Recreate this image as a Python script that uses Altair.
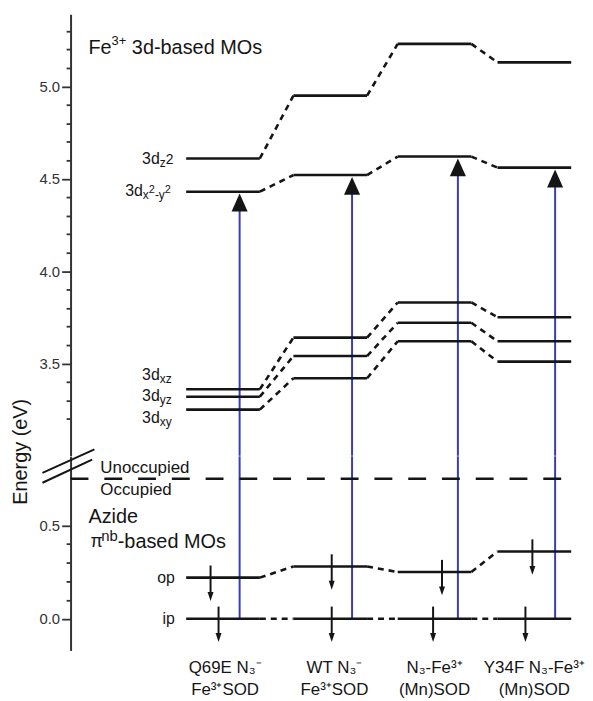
import altair as alt
import pandas as pd

# ---------------- data ----------------
complexes = ["Q69E N₃⁻\nFe³⁺SOD", "WT N₃⁻\nFe³⁺SOD", "N₃-Fe³⁺\n(Mn)SOD", "Y34F N₃-Fe³⁺\n(Mn)SOD"]
e_dz2 = [4.61, 4.95, 5.23, 5.13]
e_dx2y2 = [4.43, 4.52, 4.62, 4.56]
e_dxz = [3.36, 3.64, 3.83, 3.75]
e_dyz = [3.32, 3.54, 3.72, 3.62]
e_dxy = [3.25, 3.42, 3.62, 3.51]
e_op = [0.22, 0.28, 0.25, 0.36]
e_ip = [0.00, 0.00, 0.00, 0.00]
e_occ_boundary = 0.75
upper_ticks = [3.2, 3.3, 3.4, 3.5, 3.6, 3.7, 3.8, 3.9, 4.0, 4.1, 4.2, 4.3,
               4.4, 4.5, 4.6, 4.7, 4.8, 4.9, 5.0, 5.1, 5.2, 5.3]
lower_ticks = [0.0, 0.1, 0.2, 0.3, 0.4, 0.5]

# ---------------- layout / style ----------------
FONT = "Liberation Sans, Arial, Helvetica, sans-serif"
INK = "#151515"
AXIS_INK = "#333333"
BLUE = "#3a3db0"

PX = 104.5          # px per x unit
X0 = 223.5          # page px of first column centre


def px2x(p):
    return (p - X0) / PX


def up_y(p):        # page px -> energy (upper panel)
    return 5.0 - (p - 84) / 186.0


def lo_y(p):        # page px -> energy (lower panel)
    return (619.6 - p) / 188.0


col_x = [px2x(p) for p in (223.5, 331.5, 436.5, 537.0)]
HALF = 0.355
X_DOM = [px2x(70), px2x(580)]
W = 510
UP_DOM = [3.0, 5.39]
UP_H = round((UP_DOM[1] - UP_DOM[0]) * 186, 1)
LO_DOM = [-0.17, 0.87]
LO_H = round((LO_DOM[1] - LO_DOM[0]) * 188, 1)

blue_dx = [0.16, 0.21, 0.225, 0.20]
op_dx = [-0.12, 0.014, 0.072, -0.019]
ip_dx = [-0.043, 0.014, -0.014, -0.086]
label_dx = [0.02, 0.04, 0.0, 0.0]

TRI_UP = "M0,0 L0.9,2 L-0.9,2 Z"
HEAD_DOWN = "M0,0 L-0.6,-1.8 L0.6,-1.8 Z"

xs = alt.Scale(domain=X_DOM, nice=False, zero=False)


def X(f="x"):
    return alt.X(f"{f}:Q", scale=xs, axis=None)


major = "abs(datum.value * 2 - round(datum.value * 2)) < 0.001"


def y_axis(values, **extra):
    return alt.Axis(values=values, grid=False, labelOverlap=False,
                    labelExpr=f"{major} ? format(datum.value, '.1f') : ''",
                    tickSize={"condition": {"test": major, "value": 9}, "value": 4.5},
                    tickColor=AXIS_INK, tickWidth=1.8, domainColor=AXIS_INK, domainWidth=2,
                    labelFont=FONT, labelFontSize=15, labelColor="#333333", labelPadding=2,
                    **extra)


up_scale = alt.Scale(domain=UP_DOM, nice=False, zero=False)
lo_scale = alt.Scale(domain=LO_DOM, nice=False, zero=False)
up_axis = y_axis(upper_ticks, title="Energy (eV)", titleFont=FONT, titleFontSize=20,
                 titleFontWeight="normal", titleColor=INK, titleAngle=270,
                 titleAlign="center", titleBaseline="middle", titleX=-50, titleY=440)
lo_axis = y_axis(lower_ticks)


def YU():
    return alt.Y("y:Q", scale=up_scale, axis=up_axis)


def YL():
    return alt.Y("y:Q", scale=lo_scale, axis=lo_axis, title=None)


AW = {"3": .556, "d": .556, "x": .5, "y": .5, "z": .5, "2": .556, "-": .333, "+": .584,
      "n": .556, "b": .556, "π": .6, "F": .611, "e": .556, " ": .278}


def adv(t, s):
    return sum(AW.get(c, 0.556) for c in t) * s


def rich_rows(x_px, yv, runs):
    out = []
    for t, s, dy in runs:
        lead = len(t) - len(t.lstrip())
        x_px += adv(t[:lead], s)
        t = t.lstrip()
        out.append(dict(x=px2x(x_px), y=yv, t=t, s=s, dy=dy))
        x_px += adv(t, s)
    return out


def rich_layers(rows, Yf, align="left"):
    df = pd.DataFrame(rows)
    layers = []
    for dy, g in df.groupby("dy"):
        layers.append(
            alt.Chart(g).mark_text(align=align, baseline="middle", font=FONT, color=INK,
                                   dy=float(dy))
            .encode(x=X(), y=Yf(), text="t:N", size=alt.Size("s:Q", scale=None)))
    return layers


def level_rows(branches):
    rows = []
    for br in branches:
        for i, e in enumerate(br):
            rows.append(dict(x=col_x[i] - HALF, x2=col_x[i] + HALF, y=e))
    return pd.DataFrame(rows)


def conn_rows(branches):
    rows = []
    for br in branches:
        for i in range(len(br) - 1):
            rows.append(dict(x=col_x[i] + HALF, x2=col_x[i + 1] - HALF, y=br[i], y2=br[i + 1]))
    return pd.DataFrame(rows)


# ---------------- upper panel ----------------
up_branches = [e_dz2, e_dx2y2, e_dxz, e_dyz, e_dxy]

blue_up = alt.Chart(pd.DataFrame(dict(
    x=[col_x[i] + blue_dx[i] for i in range(4)],
    y=[UP_DOM[0]] * 4,
    y2=[e - 0.06 for e in e_dx2y2]))).mark_rule(color=BLUE, strokeWidth=2).encode(
    x=X(), y=YU(), y2=alt.Y2("y2:Q"))

tri_up = alt.Chart(pd.DataFrame(dict(
    x=[col_x[i] + blue_dx[i] for i in range(4)],
    y=[e - 0.01 for e in e_dx2y2]))).mark_point(
    shape=TRI_UP, filled=True, size=324, color=INK, opacity=1).encode(x=X(), y=YU())

lev_up = alt.Chart(level_rows(up_branches)).mark_rule(color=INK, strokeWidth=2.6).encode(
    x=X(), x2=alt.X2("x2:Q"), y=YU())

conn_up = alt.Chart(conn_rows(up_branches)).mark_rule(
    color=INK, strokeWidth=2.6, strokeDash=[6, 5]).encode(
    x=X(), x2=alt.X2("x2:Q"), y=YU(), y2=alt.Y2("y2:Q"))

up_text_rows = []
up_text_rows += rich_rows(88, up_y(45), [("Fe", 20, 0), ("3+", 13, -7), (" 3d-based MOs", 20, 0)])
up_text_rows += rich_rows(142, up_y(157), [("3d", 16, 0), ("z", 12, 4), ("2", 14, 1)])
up_text_rows += rich_rows(125, up_y(189), [("3d", 16, 0), ("x", 12, 4), ("2", 11, -1),
                                            ("-y", 12, 4), ("2", 11, -1)])
up_text_rows += rich_rows(142, up_y(375), [("3d", 16, 0), ("xz", 12, 4)])
up_text_rows += rich_rows(142, up_y(396), [("3d", 16, 0), ("yz", 12, 4)])
up_text_rows += rich_rows(142, up_y(418), [("3d", 16, 0), ("xy", 12, 4)])

upper = alt.layer(blue_up, lev_up, conn_up, tri_up,
                  *rich_layers(up_text_rows, YU)).properties(width=W, height=UP_H)

# ---------------- lower panel ----------------
lo_branches = [e_op, e_ip]

blue_lo = alt.Chart(pd.DataFrame(dict(
    x=[col_x[i] + blue_dx[i] for i in range(4)],
    y=e_ip, y2=[LO_DOM[1]] * 4))).mark_rule(color=BLUE, strokeWidth=2).encode(
    x=X(), y=YL(), y2=alt.Y2("y2:Q"))

lev_lo = alt.Chart(level_rows(lo_branches)).mark_rule(color=INK, strokeWidth=2.6).encode(
    x=X(), x2=alt.X2("x2:Q"), y=YL())

conn_lo = alt.Chart(conn_rows(lo_branches)).mark_rule(
    color=INK, strokeWidth=2.6, strokeDash=[6, 5]).encode(
    x=X(), x2=alt.X2("x2:Q"), y=YL(), y2=alt.Y2("y2:Q"))

gap = alt.Chart(pd.DataFrame(dict(x=[X_DOM[0]], x2=[px2x(567)], y=[e_occ_boundary]))).mark_rule(
    color=INK, strokeWidth=2.5, strokeDash=[18, 16]).encode(x=X(), x2=alt.X2("x2:Q"), y=YL())

spin_x = [col_x[i] + op_dx[i] for i in range(4)] + [col_x[i] + ip_dx[i] for i in range(4)]
spin_e = e_op + e_ip
spin_line = alt.Chart(pd.DataFrame(dict(
    x=spin_x, y=[e + 0.065 for e in spin_e], y2=[e - 0.10 for e in spin_e]))).mark_rule(
    color=INK, strokeWidth=2).encode(x=X(), y=YL(), y2=alt.Y2("y2:Q"))
spin_head = alt.Chart(pd.DataFrame(dict(
    x=spin_x, y=[e - 0.125 for e in spin_e]))).mark_point(
    shape=HEAD_DOWN, filled=True, size=100, color=INK, opacity=1).encode(x=X(), y=YL())

brk = alt.Chart(pd.DataFrame(dict(
    x=[px2x(41.7), px2x(41.7)], x2=[px2x(94), px2x(91.7)],
    y=[lo_y(472.7), lo_y(482.7)], y2=[lo_y(449), lo_y(459.3)]))).mark_rule(
    color=INK, strokeWidth=2).encode(x=X(), x2=alt.X2("x2:Q"), y=YL(), y2=alt.Y2("y2:Q"))

lo_text_rows = []
lo_text_rows += rich_rows(100, lo_y(468), [("Unoccupied", 17, 0)])
lo_text_rows += rich_rows(100, lo_y(490), [("Occupied", 17, 0)])
lo_text_rows += rich_rows(88, lo_y(517), [("Azide", 20, 0)])
lo_text_rows += rich_rows(90, lo_y(542), [("π", 18, 0), ("nb", 15, -6), ("-based MOs", 20, 0)])

op_ip = alt.Chart(pd.DataFrame(dict(x=[px2x(175)] * 2, y=[e_op[0], e_ip[0]], t=["op", "ip"]))).mark_text(
    align="right", baseline="middle", font=FONT, fontSize=16, color=INK).encode(
    x=X(), y=YL(), text="t:N")

col_labels = alt.Chart(pd.DataFrame(dict(
    x=[col_x[i] + label_dx[i] for i in range(4)], y=[lo_y(661)] * 4, t=complexes))).mark_text(
    align="center", baseline="top", font=FONT, fontSize=17, color=INK,
    lineBreak="\n", lineHeight=22).encode(x=X(), y=YL(), text="t:N")

lower = alt.layer(blue_lo, gap, lev_lo, conn_lo, spin_line, spin_head, brk, op_ip, col_labels,
                  *rich_layers(lo_text_rows, YL)).properties(width=W, height=LO_H)

chart = alt.vconcat(upper, lower, spacing=0, bounds="flush").properties(
    padding={"left": 3, "top": 4, "right": 0, "bottom": 0}
).configure_view(stroke=None)

chart.save("out.html", embed_options={"renderer": "svg", "actions": False})
